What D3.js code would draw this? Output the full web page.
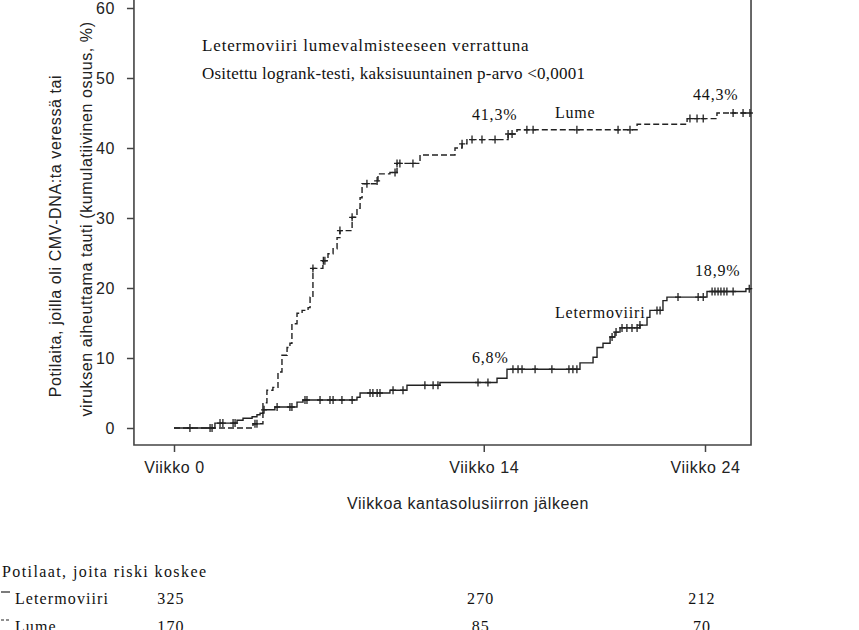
<!DOCTYPE html>
<html>
<head>
<meta charset="utf-8">
<script src="https://cdn.jsdelivr.net/npm/d3@7"></script>
<style>
    body { margin: 0; background: #fff; }
    svg { display: block; }
    .sans { font-family: "Liberation Sans", Arial, sans-serif; font-size: 16px; letter-spacing: 0.6px; fill: #222; }
    .serif { font-family: "Liberation Serif", "Times New Roman", serif; fill: #111; }
</style>
</head>
<body>
<div id="chart"></div>
<script>
// axis ticks
let xTicks = [0, 14, 24];
let xTickLabels = ["Viikko 0", "Viikko 14", "Viikko 24"];
let yTicks = [0, 10, 20, 30, 40, 50, 60];

// cumulative incidence steps [week, %]
let lumeSteps = [
    [0, 0], [3.57, 0.6], [4.02, 3.6], [4.20, 5.4], [4.47, 5.8], [4.70, 8.0], [4.88, 10.4],
    [5.11, 11.5], [5.24, 12.1], [5.33, 14.9], [5.56, 16.4], [5.79, 16.8], [6.06, 17.2],
    [6.15, 18.7], [6.28, 22.8], [6.73, 23.9], [6.96, 24.9], [7.19, 25.6], [7.37, 27.2],
    [7.50, 28.2], [8.05, 30.1], [8.27, 31.4], [8.41, 32.9], [8.50, 34.9], [9.18, 35.3],
    [9.22, 36.3], [9.76, 36.5], [10.08, 37.8], [11.12, 39.0], [12.70, 40.0], [13.02, 40.6],
    [13.24, 41.2], [15.10, 42.0], [15.50, 42.6], [20.93, 43.4], [23.19, 44.2], [24.54, 45.0]
];
let lumeCensored = [
    3.66, 3.75, 6.28, 6.75, 6.82, 7.50, 8.05, 8.72, 9.18, 9.99, 10.08, 10.21, 10.80,
    13.02, 13.47, 13.92, 14.51, 15.10, 15.28, 15.95, 16.23, 18.21, 20.07, 20.61,
    23.32, 23.64, 23.92, 25.27, 25.72, 26.03
];

let letSteps = [
    [0, 0], [1.85, 0.7], [2.85, 1.1], [3.12, 1.4], [3.53, 1.6], [3.75, 1.9], [3.89, 2.1],
    [4.02, 2.6], [4.56, 3.0], [5.56, 3.7], [5.83, 4.0], [8.27, 4.4], [8.41, 5.0], [9.76, 5.4],
    [10.53, 6.1], [12.02, 6.5], [14.60, 7.1], [15.05, 8.4], [18.35, 9.3], [18.94, 10.1],
    [19.12, 11.5], [19.39, 12.1], [19.71, 13.0], [19.93, 13.7], [20.16, 14.3], [21.06, 14.7],
    [21.38, 15.8], [21.51, 16.8], [22.10, 18.2], [22.28, 18.7], [24.09, 19.5], [25.85, 19.9]
];
let letCensored = [
    0.72, 1.63, 1.72, 2.08, 2.21, 2.67, 2.76, 4.07, 4.66, 5.24, 5.33, 5.92, 6.01, 6.60,
    7.05, 7.19, 7.59, 8.05, 8.86, 8.99, 9.18, 9.31, 9.90, 10.35, 11.34, 11.71, 11.93,
    13.74, 14.19, 15.32, 15.55, 15.73, 16.32, 17.08, 17.85, 18.03, 18.21, 19.80, 19.98,
    20.25, 20.47, 20.70, 20.93, 21.06, 21.83, 21.97, 22.78, 23.69, 23.92, 24.32, 24.45,
    24.59, 24.72, 24.86, 24.99, 25.27, 26.00
];
let lastWeek = 26.08;

// numbers at risk
let riskGroups = ["Letermoviiri", "Lume"];
let riskLet = [325, 270, 212];
let riskLume = [170, 85, 70];

let percentLabels = ["41,3%", "44,3%", "6,8%", "18,9%"];

function valueAt(steps, w) {
    let v = 0;
    steps.forEach(d => {
        if (d[0] <= w) v = d[1];
    });
    return v;
}

function draw_chart() {
    let svgWidth = 859;
    let svgHeight = 630;
    let svg = d3.select('#chart').append('svg')
        .attr('width', svgWidth)
        .attr('height', svgHeight);

    let x = d3.scaleLinear().domain([0, 24]).range([174, 705]);
    let y = d3.scaleLinear().domain([0, 60]).range([428, 8]);

    let left = x(-1.81), right = x(lastWeek), bottom = y(-2.43), top = y(62);

    // frame (top edge runs off the picture)
    svg.append('path')
        .attr('d', `M${left},${top}V${bottom}H${right}V${top}`)
        .attr('fill', 'none')
        .attr('stroke', '#444')
        .attr('stroke-width', 1.6);

    // y axis
    let gy = svg.append('g')
        .attr('transform', `translate(${left},0)`)
        .call(d3.axisLeft(y).tickValues(yTicks).tickSize(7).tickPadding(12));
    gy.select('.domain').remove();
    gy.selectAll('line').attr('stroke', '#444').attr('stroke-width', 1.5);
    gy.selectAll('text').attr('class', 'sans').attr('font-size', null).attr('font-family', null)
        .attr('dy', '0.36em');

    // x axis
    let gx = svg.append('g')
        .attr('transform', `translate(0,${bottom})`)
        .call(d3.axisBottom(x).tickValues(xTicks).tickSize(7).tickPadding(10)
            .tickFormat((d, i) => xTickLabels[i]));
    gx.select('.domain').remove();
    gx.selectAll('line').attr('stroke', '#444').attr('stroke-width', 1.5);
    gx.selectAll('text').attr('class', 'sans').attr('font-size', null).attr('font-family', null);

    // axis titles
    svg.append('text')
        .attr('class', 'sans')
        .attr('x', 468)
        .attr('y', 509)
        .attr('text-anchor', 'middle')
        .text('Viikkoa kantasolusiirron jälkeen');

    svg.append('text')
        .attr('class', 'sans')
        .attr('transform', 'translate(61,236) rotate(-90)')
        .attr('text-anchor', 'middle')
        .text('Potilaita, joilla oli CMV-DNA:ta veressä tai');
    svg.append('text')
        .attr('class', 'sans')
        .attr('transform', 'translate(92,219) rotate(-90)')
        .attr('text-anchor', 'middle')
        .text('viruksen aiheuttama tauti (kumulatiivinen osuus, %)');

    // curves
    let line = d3.line()
        .x(d => x(d[0]))
        .y(d => y(d[1]))
        .curve(d3.curveStepAfter);

    let series = [
        { steps: lumeSteps, censored: lumeCensored, dash: '6,3' },
        { steps: letSteps, censored: letCensored, dash: null }
    ];
    series.forEach(s => {
        let pts = s.steps.concat([[lastWeek, s.steps[s.steps.length - 1][1]]]);
        svg.append('path')
            .datum(pts)
            .attr('d', line)
            .attr('fill', 'none')
            .attr('stroke', '#222')
            .attr('stroke-width', 1.4)
            .attr('stroke-dasharray', s.dash);
        svg.append('g')
            .selectAll('path')
            .data(s.censored)
            .enter()
            .append('path')
            .attr('d', w => {
                let cx = x(w), cy = y(valueAt(s.steps, w));
                return `M${cx - 3},${cy}H${cx + 3}M${cx},${cy - 4}V${cy + 4}`;
            })
            .attr('stroke', '#222')
            .attr('stroke-width', 1.3);
    });

    // annotations
    let note = svg.append('g').attr('class', 'serif').style('font-size', '17px');
    note.append('text').attr('x', 202).attr('y', 51)
        .style('letter-spacing', '0.85px')
        .text('Letermoviiri lumevalmisteeseen verrattuna');
    note.append('text').attr('x', 202).attr('y', 79)
        .style('letter-spacing', '0.22px')
        .text('Ositettu logrank-testi, kaksisuuntainen p-arvo <0,0001');

    let lab = svg.append('g').attr('class', 'serif')
        .style('font-size', '16px').style('letter-spacing', '0.8px');
    lab.append('text').attr('x', x(13.47)).attr('y', y(44.0)).text(percentLabels[0]);
    lab.append('text').attr('x', x(17.22)).attr('y', y(44.3)).text(riskGroups[1]);
    lab.append('text').attr('x', x(23.46)).attr('y', y(46.86)).text(percentLabels[1]);
    lab.append('text').attr('x', x(13.47)).attr('y', y(9.3)).text(percentLabels[2]);
    lab.append('text').attr('x', x(17.22)).attr('y', y(15.7)).text(riskGroups[0]);
    lab.append('text').attr('x', x(23.55)).attr('y', y(21.7)).text(percentLabels[3]);

    // numbers at risk table
    let tab = svg.append('g').attr('class', 'serif')
        .style('font-size', '16px').style('letter-spacing', '1.1px');
    tab.append('text').attr('x', 2).attr('y', 577)
        .style('letter-spacing', '1.4px')
        .text('Potilaat, joita riski koskee');
    let rows = [riskLet, riskLume];
    let rowY = [604, 632];
    rows.forEach((r, i) => {
        tab.append('text').attr('x', 15).attr('y', rowY[i]).text(riskGroups[i]);
        tab.selectAll(null)
            .data(r)
            .enter()
            .append('text')
            .attr('x', (d, j) => x(xTicks[j]) - 3)
            .attr('y', rowY[i])
            .attr('text-anchor', 'middle')
            .text(d => d);
        svg.append('line')
            .attr('x1', 1).attr('x2', 10)
            .attr('y1', rowY[i] - 12).attr('y2', rowY[i] - 12)
            .attr('stroke', '#222')
            .attr('stroke-width', 1.2)
            .attr('stroke-dasharray', i == 1 ? '3,2' : null);
    });
}

draw_chart();
</script>
</body>
</html>
